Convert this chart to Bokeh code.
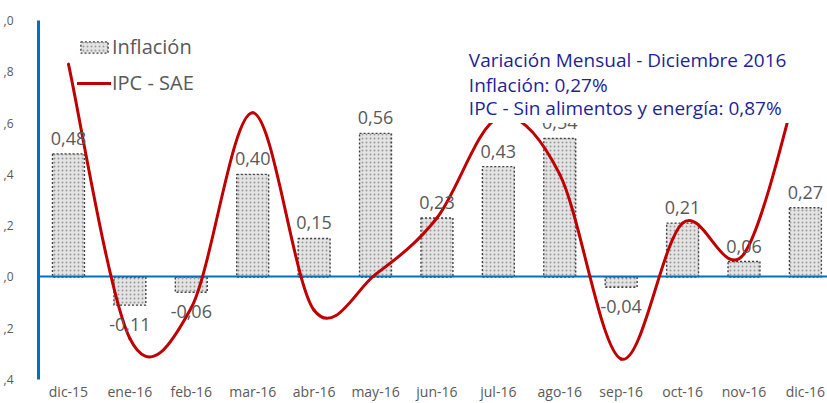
from bokeh.plotting import figure
from bokeh.models import (Range1d, FixedTicker, LabelSet, Label, BoxAnnotation,
                          ColumnDataSource)
from bokeh.core.properties import value
from bokeh.embed import file_html
from bokeh.resources import INLINE

# ---------------- data ----------------
months = ["dic-15", "ene-16", "feb-16", "mar-16", "abr-16", "may-16", "jun-16",
          "jul-16", "ago-16", "sep-16", "oct-16", "nov-16", "dic-16"]
inflacion = [0.48, -0.11, -0.06, 0.40, 0.15, 0.56, 0.23, 0.43, 0.54, -0.04, 0.21, 0.06, 0.27]
ipc_sae = [0.83, -0.24, -0.12, 0.64, -0.13, 0.01, 0.23, 0.62, 0.40, -0.32, 0.21, 0.09, 0.87]
y_tick_values = [-0.4, -0.2, 0.0, 0.2, 0.4, 0.6, 0.8, 1.0]
y_tick_labels = [",4", ",2", ",0", ",2", ",4", ",6", ",8", ",0"]
note_lines = ["Variación Mensual - Diciembre 2016",
              "Inflación: 0,27%",
              "IPC - Sin alimentos y energía: 0,87%"]

FONT = "Open Sans"
GREY = "#595959"
BLUE = "#0070C0"
RED = "#C00000"
NAVY = "#1F1F99"

xs = list(range(len(months)))

p = figure(width=827, height=403, output_backend="svg", toolbar_location=None,
           x_range=Range1d(-0.488, 12.36), y_range=Range1d(-0.4, 1.0),
           min_border_left=29, min_border_right=0, min_border_top=20,
           min_border_bottom=0, background_fill_color="white",
           border_fill_color="white", outline_line_color=None)
p.grid.visible = False

# bars
bars = p.vbar(x=xs, top=inflacion, bottom=0, width=0.52,
              fill_color="#e4e4e4", hatch_pattern=".", hatch_color="#9a9a9a",
              hatch_scale=4, hatch_weight=1.1,
              line_color="#404040", line_width=1.4, line_dash="2 2",
              legend_label="Inflación")

# zero line
p.hspan(y=[0], line_color=BLUE, line_width=2)

# smoothed IPC-SAE line (Bezier segments, Catmull-Rom style control points)
n = len(ipc_sae)
x0, y0, x1, y1, cx0, cy0, cx1, cy1 = [], [], [], [], [], [], [], []
for i in range(n - 1):
    ia, ib = max(i - 1, 0), min(i + 2, n - 1)
    x0.append(xs[i]); y0.append(ipc_sae[i])
    x1.append(xs[i + 1]); y1.append(ipc_sae[i + 1])
    cx0.append(xs[i] + (xs[i + 1] - xs[ia]) / 6.0)
    cy0.append(ipc_sae[i] + (ipc_sae[i + 1] - ipc_sae[ia]) / 6.0)
    cx1.append(xs[i + 1] - (xs[ib] - xs[i]) / 6.0)
    cy1.append(ipc_sae[i + 1] - (ipc_sae[ib] - ipc_sae[i]) / 6.0)
p.bezier(x0=x0, y0=y0, x1=x1, y1=y1, cx0=cx0, cy0=cy0, cx1=cx1, cy1=cy1,
         line_color=RED, line_width=3, line_cap="round", legend_label="IPC - SAE")

# bar value labels
lab_src = ColumnDataSource(dict(
    x=xs,
    y=[v + 0.035 if v >= 0 else v - 0.10 for v in inflacion],
    text=[f"{v:.2f}".replace(".", ",") for v in inflacion]))
p.add_layout(LabelSet(x="x", y="y", text="text", source=lab_src,
                      text_align="center", text_baseline="alphabetic",
                      text_font=value(FONT), text_font_size=value("18px"),
                      text_color=GREY))

# white note box covering the plot area
p.add_layout(BoxAnnotation(left=6.42, right=12.6, bottom=0.60, top=0.95,
                           fill_color="white", fill_alpha=1.0, line_color=None))
for txt, yy in zip(note_lines, [0.846, 0.747, 0.660]):
    p.add_layout(Label(x=6.52, y=yy, text=txt, text_font=FONT,
                       text_font_size="19px", text_color=NAVY,
                       text_baseline="alphabetic", text_align="left"))

# axes
p.xaxis.ticker = FixedTicker(ticks=xs)
p.xaxis.major_label_overrides = {i: m for i, m in zip(xs, months)}
p.xaxis.axis_line_color = None
p.xaxis.major_tick_line_color = None
p.xaxis.minor_tick_line_color = None
p.xaxis.major_tick_out = 0
p.xaxis.major_tick_in = 0
p.xaxis.major_label_standoff = 2
p.xaxis.major_label_text_font = FONT
p.xaxis.major_label_text_font_size = "14px"
p.xaxis.major_label_text_color = GREY

p.yaxis.ticker = FixedTicker(ticks=y_tick_values)
p.yaxis.major_label_overrides = {v: t for v, t in zip(y_tick_values, y_tick_labels)}
p.yaxis.axis_line_color = BLUE
p.yaxis.axis_line_width = 3
p.yaxis.major_tick_line_color = None
p.yaxis.minor_tick_line_color = None
p.yaxis.major_label_standoff = 19
p.yaxis.major_label_text_font = FONT
p.yaxis.major_label_text_font_size = "12px"
p.yaxis.major_label_text_color = GREY

# legend
lg = p.legend[0]
lg.location = (39, 283)
lg.background_fill_alpha = 0
lg.border_line_color = None
lg.padding = 0
lg.margin = 0
lg.spacing = 9
lg.glyph_width = 34
lg.glyph_height = 14
lg.label_standoff = 1
lg.label_text_font = FONT
lg.label_text_font_size = "20px"
lg.label_text_color = GREY

open("out.html", "w").write(file_html(p, INLINE))
